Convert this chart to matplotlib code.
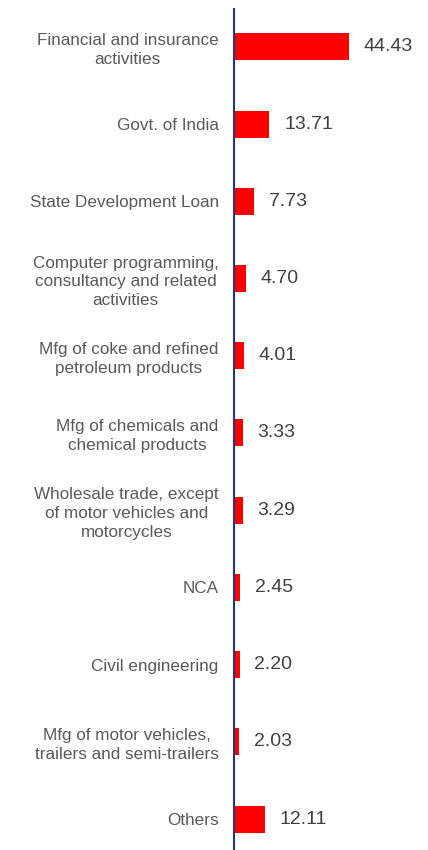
import matplotlib.pyplot as plt

plt.rcParams['font.family'] = ['Liberation Sans', 'DejaVu Sans']

# sectors and their share (%)
categories = [
    "Financial and insurance\nactivities",
    "Govt. of India",
    "State Development Loan",
    "Computer programming,\nconsultancy and related\nactivities",
    "Mfg of coke and refined\npetroleum products",
    "Mfg of chemicals and\nchemical products",
    "Wholesale trade, except\nof motor vehicles and\nmotorcycles",
    "NCA",
    "Civil engineering",
    "Mfg of motor vehicles,\ntrailers and semi-trailers",
    "Others",
]
values = [44.43, 13.71, 7.73, 4.70, 4.01, 3.33, 3.29, 2.45, 2.20, 2.03, 12.11]

fig = plt.figure(figsize=(4.28, 8.5), dpi=100)
ax = fig.add_axes([234 / 428, 0, 1 - 234 / 428, 841 / 850])

pos = list(range(len(values)))
ax.barh(pos, values, height=0.35, color='#ff0000')
ax.set_ylim(10.40, -0.49)
ax.set_xlim(0, 75)

for i, v in enumerate(values):
    ax.annotate(f"{v:.2f}", (v, i), xytext=(10.5, 0), textcoords='offset points',
                va='center', ha='left', fontsize=14, color='#404040')

ax.set_yticks(pos)
ax.set_yticklabels(categories, fontsize=12.3, color='#595959',
                   multialignment='center', linespacing=1.3)
ax.tick_params(axis='y', length=0, pad=11)
ax.set_xticks([])

for s in ['top', 'right', 'bottom']:
    ax.spines[s].set_visible(False)
ax.spines['left'].set_color('#1f3a7a')
ax.spines['left'].set_linewidth(1.5)

fig.savefig('out.png', dpi=100)
